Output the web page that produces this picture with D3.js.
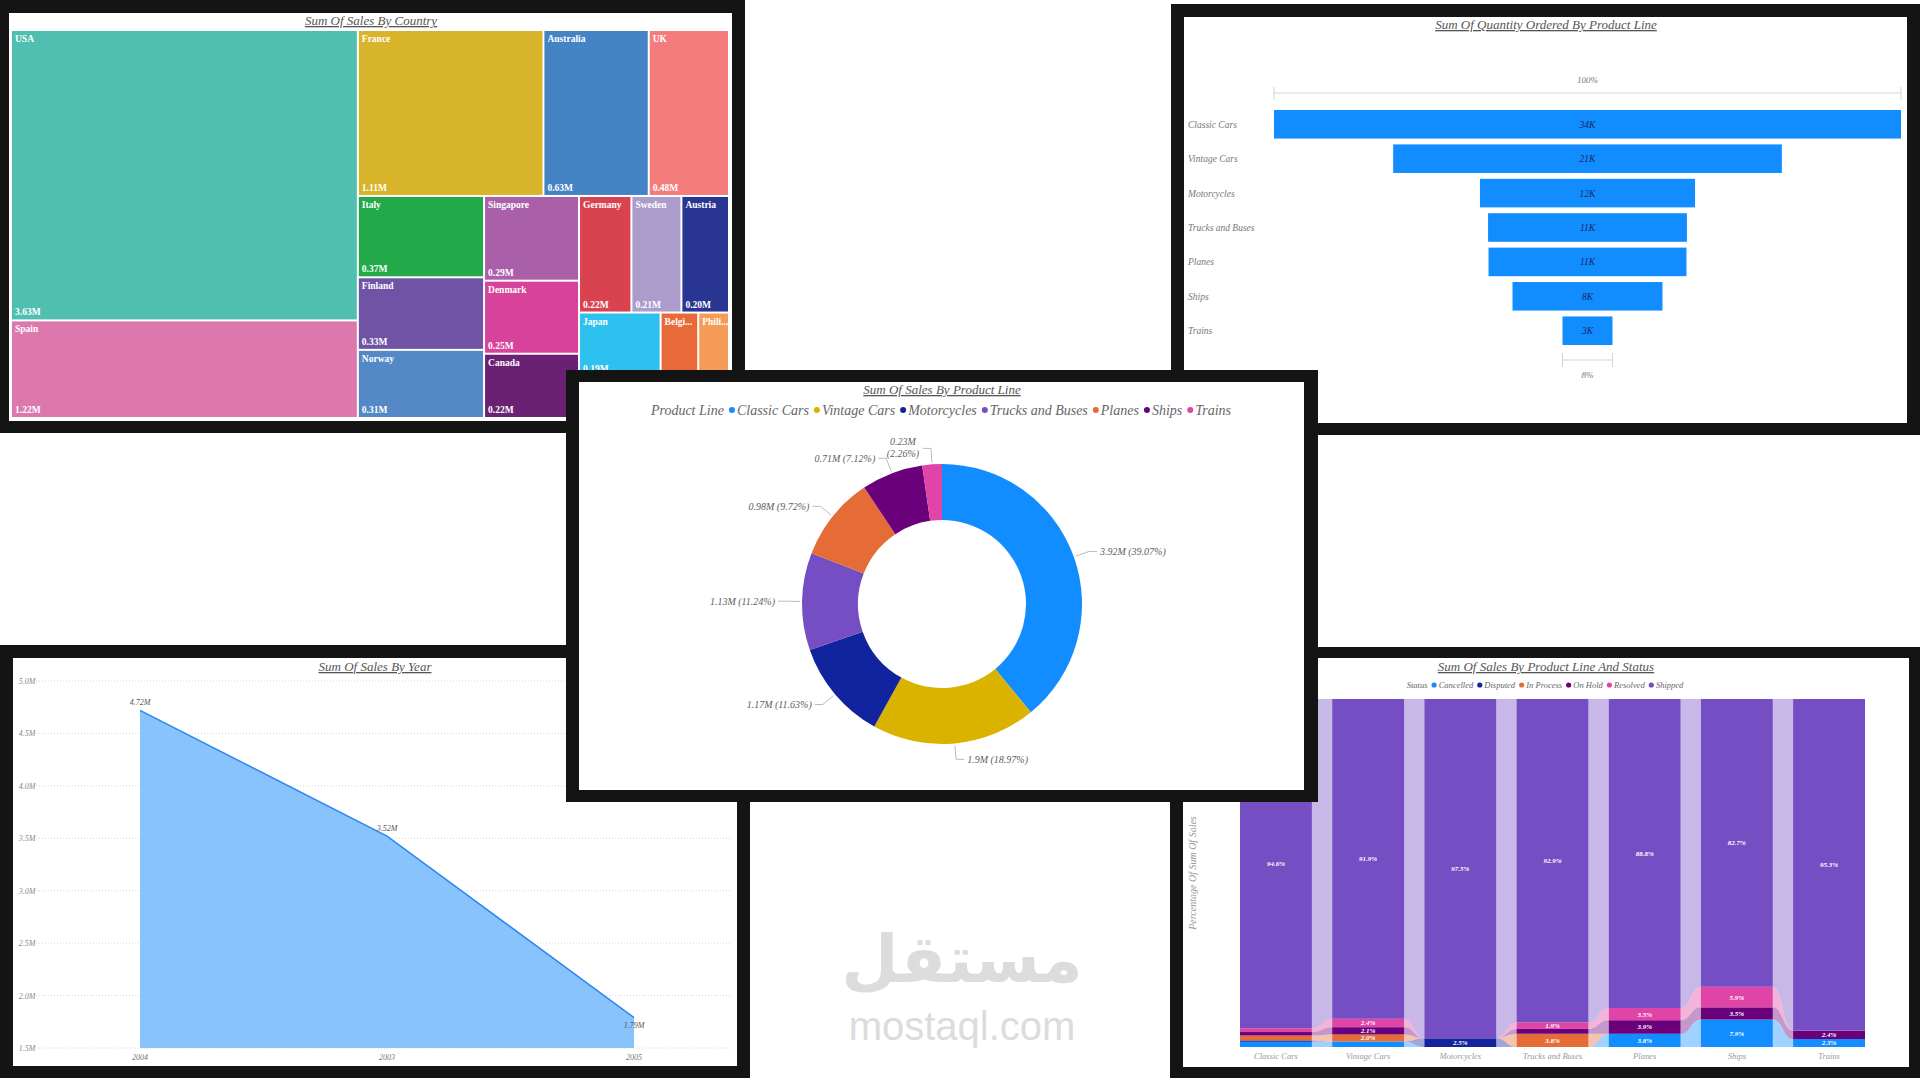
<!DOCTYPE html>
<html>
<head>
<meta charset="utf-8">
<script src="https://cdn.jsdelivr.net/npm/d3@7"></script>
<style>
  body { margin: 0; background: #fff; }
  svg { display: block; }
  text { font-family: "Liberation Serif", "DejaVu Serif", serif; font-style: italic; }
</style>
</head>
<body>
<svg id="dash" width="1920" height="1080"></svg>
<script>
// ---- data ----
var countries = ['USA', 'Spain', 'France', 'Australia', 'UK', 'Italy', 'Finland', 'Norway', 'Singapore',
  'Denmark', 'Canada', 'Germany', 'Sweden', 'Austria', 'Japan', 'Switzerland', 'Belgium', 'Philippines', 'Ireland'];
var countrySales = [3.63, 1.22, 1.11, 0.63, 0.48, 0.37, 0.33, 0.31, 0.29, 0.25, 0.22, 0.22, 0.21, 0.20, 0.19, 0.12, 0.11, 0.09, 0.06];

var productLines = ['Classic Cars', 'Vintage Cars', 'Motorcycles', 'Trucks and Buses', 'Planes', 'Ships', 'Trains'];
var quantityK = [33.99, 21.07, 11.66, 10.78, 10.73, 8.13, 2.71];
var productSales = [3.92, 1.903, 1.167, 1.128, 0.975, 0.714, 0.2266];

var years = ['2004', '2003', '2005'];
var yearSales = [4.72, 3.52, 1.79];
var yearTicks = [1.5, 2.0, 2.5, 3.0, 3.5, 4.0, 4.5, 5.0];

var statuses = ['Cancelled', 'Disputed', 'In Process', 'On Hold', 'Resolved', 'Shipped'];
var cancelledPct = [1.5, 1.6, 0, 0, 3.8, 7.9, 2.3];
var disputedPct  = [0.4, 0, 2.5, 0, 0, 0, 0];
var inProcessPct = [1.4, 2.0, 0, 3.8, 0, 0, 0];
var onHoldPct    = [1.0, 2.1, 0, 1.4, 3.9, 3.5, 2.4];
var resolvedPct  = [1.1, 2.4, 0, 1.9, 3.5, 5.9, 0];
var shippedPct   = [94.6, 91.9, 97.5, 92.9, 88.8, 82.7, 95.3];

// ---- colours ----
var countryColors = ['#4fc0b0', '#dc78ae', '#d8b42a', '#4484c5', '#f47c7c', '#21a94a', '#6f54a6', '#5488c6', '#aa60a8',
  '#d7439b', '#6a2173', '#d9434f', '#ab9ccc', '#283591', '#2ec0ee', '#45b5a5', '#e8693a', '#f59b58', '#8f6fc0'];
var productColors = ['#118dff', '#d9b300', '#12239e', '#744ec2', '#e66c37', '#6b007b', '#e044a7'];
var statusColors = ['#118dff', '#12239e', '#e66c37', '#6b007b', '#e044a7', '#744ec2'];

var svg = d3.select('#dash');

function panel(x, y, w, h, l, t, r, b) {
  svg.append('rect').attr('x', x).attr('y', y).attr('width', w).attr('height', h).attr('fill', '#141414');
  svg.append('rect').attr('x', x + l).attr('y', y + t).attr('width', w - l - r).attr('height', h - t - b).attr('fill', '#fff');
}
function title(t, cx, cy) {
  svg.append('text').attr('x', cx).attr('y', cy).attr('text-anchor', 'middle')
    .attr('font-size', 13).attr('fill', '#555').style('text-decoration', 'underline').text(t);
}

// ---------- treemap ----------
panel(0, 0, 745, 433, 9, 13, 13, 12);
title('Sum Of Sales By Country', 371, 25);

var root = d3.hierarchy({children: countries.map(function(c, i) { return {name: c, value: countrySales[i], color: countryColors[i]}; })})
  .sum(function(d) { return d.value || 0; })
  .sort(function(a, b) { return b.value - a.value; });
d3.treemap().size([716, 386]).paddingInner(2).tile(d3.treemapSquarify)(root);

var tiles = svg.append('g').attr('transform', 'translate(12,31)')
  .selectAll('g').data(root.leaves()).enter().append('g');
tiles.append('rect')
  .attr('x', function(d) { return d.x0; }).attr('y', function(d) { return d.y0; })
  .attr('width', function(d) { return d.x1 - d.x0; }).attr('height', function(d) { return d.y1 - d.y0; })
  .attr('fill', function(d) { return d.data.color; });
var labelled = tiles.filter(function(d) { return d.y1 - d.y0 > 30; });
labelled.append('text')
  .attr('x', function(d) { return d.x0 + 3; }).attr('y', function(d) { return d.y0 + 11; })
  .attr('font-size', 9.5).attr('font-weight', 'bold').style('font-style', 'normal').attr('fill', '#fff')
  .text(function(d) {
    var w = d.x1 - d.x0;
    return w < 45 && d.data.name.length > 5 ? d.data.name.slice(0, 5) + '...' : d.data.name;
  });
labelled.append('text')
  .attr('x', function(d) { return d.x0 + 3; }).attr('y', function(d) { return d.y1 - 4; })
  .attr('font-size', 9.5).attr('font-weight', 'bold').style('font-style', 'normal').attr('fill', '#fff')
  .text(function(d) { return d3.format('.2f')(d.value) + 'M'; });

// ---------- funnel ----------
panel(1171, 4, 749, 431, 13, 13, 13, 12);
title('Sum Of Quantity Ordered By Product Line', 1546, 29);

var fcx = 1587.5;
var fx = d3.scaleLinear().domain([0, d3.max(quantityK)]).range([0, 627]);
var fy = d3.scaleBand().domain(productLines).range([110, 345]).paddingInner(0.17);
var fg = svg.append('g');
var fTop = fx(quantityK[0]), fBot = fx(quantityK[quantityK.length - 1]);
fg.append('path').attr('fill', 'none').attr('stroke', '#d4d4d4')
  .attr('d', 'M' + (fcx - fTop / 2) + ',87V100M' + (fcx - fTop / 2) + ',93H' + (fcx + fTop / 2) + 'M' + (fcx + fTop / 2) + ',87V100');
fg.append('text').attr('x', fcx).attr('y', 83).attr('text-anchor', 'middle').attr('font-size', 9).attr('fill', '#777').text('100%');
fg.append('path').attr('fill', 'none').attr('stroke', '#d4d4d4')
  .attr('d', 'M' + (fcx - fBot / 2) + ',353V367M' + (fcx - fBot / 2) + ',360H' + (fcx + fBot / 2) + 'M' + (fcx + fBot / 2) + ',353V367');
fg.append('text').attr('x', fcx).attr('y', 378).attr('text-anchor', 'middle').attr('font-size', 9).attr('fill', '#777')
  .text(d3.format('.0%')(quantityK[quantityK.length - 1] / quantityK[0]));

fg.selectAll('rect.bar').data(quantityK).enter().append('rect')
  .attr('x', function(d) { return fcx - fx(d) / 2; })
  .attr('y', function(d, i) { return fy(productLines[i]); })
  .attr('width', function(d) { return fx(d); })
  .attr('height', fy.bandwidth())
  .attr('fill', '#118dff');
fg.selectAll('text.val').data(quantityK).enter().append('text')
  .attr('x', fcx).attr('y', function(d, i) { return fy(productLines[i]) + fy.bandwidth() / 2 + 3.5; })
  .attr('text-anchor', 'middle').attr('font-size', 9.5).attr('fill', '#1b2466')
  .text(function(d) { return d3.format('.0f')(d) + 'K'; });
fg.selectAll('text.cat').data(productLines).enter().append('text')
  .attr('x', 1188).attr('y', function(d) { return fy(d) + fy.bandwidth() / 2 + 3.5; })
  .attr('font-size', 9.5).attr('fill', '#777').text(function(d) { return d; });

// ---------- area (sales by year) ----------
panel(0, 645, 750, 433, 13, 13, 13, 12);
title('Sum Of Sales By Year', 375, 671);

var ax = d3.scalePoint().domain(years).range([140, 634]);
var ay = d3.scaleLinear().domain([1.5, 5.0]).range([1048, 681]);
var ag = svg.append('g');
ag.selectAll('line.grid').data(yearTicks).enter().append('line')
  .attr('x1', 36).attr('x2', 732).attr('y1', function(d) { return ay(d); }).attr('y2', function(d) { return ay(d); })
  .attr('stroke', '#d6d6d6').attr('stroke-dasharray', '1,2');
ag.selectAll('text.yt').data(yearTicks).enter().append('text')
  .attr('x', 27).attr('y', function(d) { return ay(d) + 3; }).attr('text-anchor', 'middle')
  .attr('font-size', 8).attr('fill', '#888').text(function(d) { return d3.format('.1f')(d) + 'M'; });
var yearPts = years.map(function(y, i) { return {year: y, v: yearSales[i]}; });
ag.append('path').datum(yearPts)
  .attr('fill', '#89c3fd')
  .attr('d', d3.area().x(function(d) { return ax(d.year); }).y0(ay(1.5)).y1(function(d) { return ay(d.v); }));
ag.append('path').datum(yearPts)
  .attr('fill', 'none').attr('stroke', '#2b87f0').attr('stroke-width', 1.5)
  .attr('d', d3.line().x(function(d) { return ax(d.year); }).y(function(d) { return ay(d.v); }));
ag.selectAll('text.dl').data(yearPts).enter().append('text')
  .attr('x', function(d) { return ax(d.year); })
  .attr('y', function(d, i) { return i === yearPts.length - 1 ? ay(d.v) + 10 : ay(d.v) - 5; })
  .attr('text-anchor', 'middle').attr('font-size', 8).attr('fill', '#555')
  .text(function(d) { return d3.format('.2f')(d.v) + 'M'; });
ag.selectAll('text.xt').data(years).enter().append('text')
  .attr('x', function(d) { return ax(d); }).attr('y', 1060).attr('text-anchor', 'middle')
  .attr('font-size', 8).attr('fill', '#777').text(function(d) { return d; });

// ---------- ribbon (sales by product line and status) ----------
panel(1170, 647, 750, 431, 13, 11, 11, 11);
title('Sum Of Sales By Product Line And Status', 1546, 671);

var pctCols = [cancelledPct, disputedPct, inProcessPct, onHoldPct, resolvedPct, shippedPct];
var rows = productLines.map(function(p, i) {
  var r = {product: p};
  statuses.forEach(function(s, k) { r[s] = pctCols[k][i]; });
  return r;
});
var stacked = d3.stack().keys(statuses)(rows);
var rx = d3.scaleBand().domain(productLines).range([1240, 1865]).paddingInner(0.22);
var ry = d3.scaleLinear().domain([0, 100]).range([1047, 699]);
var rg = svg.append('g');
var ribbon = d3.area().curve(d3.curveBumpX)
  .x(function(d) { return d.x; }).y0(function(d) { return ry(d.a); }).y1(function(d) { return ry(d.b); });

stacked.forEach(function(s, k) {
  for (var i = 0; i < productLines.length - 1; i++) {
    var pts = [
      {x: rx(productLines[i]) + rx.bandwidth(), a: s[i][0], b: s[i][1]},
      {x: rx(productLines[i + 1]), a: s[i + 1][0], b: s[i + 1][1]}
    ];
    rg.append('path').attr('d', ribbon(pts)).attr('fill', statusColors[k]).attr('fill-opacity', 0.4);
  }
});
stacked.forEach(function(s, k) {
  rg.selectAll(null).data(s).enter().append('rect')
    .attr('x', function(d) { return rx(d.data.product); })
    .attr('width', rx.bandwidth())
    .attr('y', function(d) { return ry(d[1]); })
    .attr('height', function(d) { return ry(d[0]) - ry(d[1]); })
    .attr('fill', statusColors[k]);
  rg.selectAll(null).data(s.filter(function(d) { return ry(d[0]) - ry(d[1]) >= 6; })).enter().append('text')
    .attr('x', function(d) { return rx(d.data.product) + rx.bandwidth() / 2; })
    .attr('y', function(d) { return (ry(d[0]) + ry(d[1])) / 2 + 2.5; })
    .attr('text-anchor', 'middle').attr('font-size', 7).attr('font-weight', 'bold').attr('fill', '#fff')
    .text(function(d) { return d3.format('.1f')(d[1] - d[0]) + '%'; });
});
rg.selectAll('text.rx').data(productLines).enter().append('text')
  .attr('x', function(d) { return rx(d) + rx.bandwidth() / 2; }).attr('y', 1059)
  .attr('text-anchor', 'middle').attr('font-size', 8.5).attr('fill', '#999').text(function(d) { return d; });
rg.append('text').attr('transform', 'translate(1196,873) rotate(-90)').attr('text-anchor', 'middle')
  .attr('font-size', 10).attr('fill', '#999').text('Percentage Of Sum Of Sales');

function legend(cx, cy, head, names, colors, size, r, gap) {
  var g = svg.append('g');
  var x = 0;
  var h = g.append('text').attr('x', x).attr('y', cy + size * 0.33).attr('font-size', size).attr('fill', '#666').text(head);
  x += h.node().getComputedTextLength() + gap;
  names.forEach(function(n, i) {
    g.append('circle').attr('cx', x + r).attr('cy', cy).attr('r', r).attr('fill', colors[i]);
    x += 2 * r + 2;
    var t = g.append('text').attr('x', x).attr('y', cy + size * 0.33).attr('font-size', size).attr('fill', '#666').text(n);
    x += t.node().getComputedTextLength() + gap;
  });
  g.attr('transform', 'translate(' + (cx - (x - gap) / 2) + ',0)');
}
legend(1545, 685, 'Status', statuses, statusColors, 8.5, 2.6, 4);

// ---------- watermark ----------
svg.append('text').attr('x', 962).attr('y', 982).attr('text-anchor', 'middle')
  .style('font-family', '"DejaVu Sans", sans-serif').style('font-style', 'normal').attr('font-weight', 'bold')
  .attr('font-size', 66).attr('fill', '#dcdcdc').text('مستقل');
svg.append('text').attr('x', 962).attr('y', 1040).attr('text-anchor', 'middle')
  .style('font-family', '"Liberation Sans", Arial, sans-serif').style('font-style', 'normal')
  .attr('font-size', 40).attr('fill', '#dcdcdc').text('mostaql.com');

// ---------- donut (on top) ----------
panel(566, 370, 752, 432, 13, 12, 14, 12);
title('Sum Of Sales By Product Line', 942, 394);
legend(941, 410, 'Product Line', productLines, productColors, 14, 3, 5);

var dcx = 942, dcy = 604;
var total = d3.sum(productSales);
var pie = d3.pie().sort(null).value(function(d) { return d; })(productSales);
var arc = d3.arc().innerRadius(84).outerRadius(140);
var dg = svg.append('g').attr('transform', 'translate(' + dcx + ',' + dcy + ')');
dg.selectAll('path').data(pie).enter().append('path')
  .attr('d', arc).attr('fill', function(d, i) { return productColors[i]; });

pie.forEach(function(d) {
  var a = (d.startAngle + d.endAngle) / 2;
  var sx = Math.sin(a), sy = -Math.cos(a);
  var side = sx >= 0 ? 1 : -1;
  var p1 = [sx * 142, sy * 142], p2 = [sx * 156, sy * 156], p3 = [p2[0] + side * 8, p2[1]];
  dg.append('polyline').attr('points', [p1, p2, p3].join(' '))
    .attr('fill', 'none').attr('stroke', '#aaa').attr('stroke-width', 0.8);
  var val = (Math.round(d.value * 100) / 100) + 'M';
  var pct = '(' + d3.format('.2%')(d.value / total) + ')';
  var t = dg.append('text').attr('font-size', 10).attr('fill', '#605e5c');
  if (d.value / total < 0.03) {
    t.attr('text-anchor', 'middle');
    t.append('tspan').attr('x', p3[0] + side * 20).attr('y', p3[1] - 3).text(val);
    t.append('tspan').attr('x', p3[0] + side * 20).attr('y', p3[1] + 9).text(pct);
  } else {
    t.attr('x', p3[0] + side * 3).attr('y', p3[1] + 3.5)
      .attr('text-anchor', side > 0 ? 'start' : 'end').text(val + ' ' + pct);
  }
});
</script>
</body>
</html>
